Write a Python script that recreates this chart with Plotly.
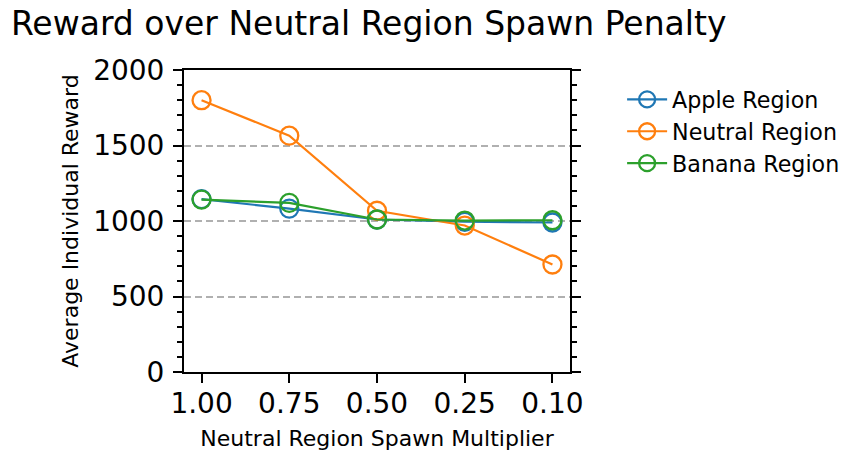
import plotly.graph_objects as go

# Spawn multipliers (categorical x axis) and average rewards per region
multipliers = ["1.00", "0.75", "0.50", "0.25", "0.10"]
apple_reward = [1145, 1082, 1010, 995, 990]
neutral_reward = [1800, 1565, 1068, 970, 712]
banana_reward = [1142, 1120, 1010, 1003, 1005]

series = [
    ("Apple Region", apple_reward, "#1f77b4"),
    ("Neutral Region", neutral_reward, "#ff7f0e"),
    ("Banana Region", banana_reward, "#2ca02c"),
]

FONT = "DejaVu Sans"
INK = "#000000"

fig = go.Figure()
for name, values, color in series:
    fig.add_trace(go.Scatter(
        x=multipliers, y=values, name=name, mode="lines+markers",
        line=dict(color=color, width=2.2),
        marker=dict(symbol="circle-open", size=18, color=color,
                    line=dict(color=color, width=2.3)),
    ))

fig.update_layout(
    width=841, height=452,
    margin=dict(l=184, r=271, t=70, b=80, autoexpand=False),
    paper_bgcolor="white", plot_bgcolor="white",
    font=dict(family=FONT, color=INK),
    title=dict(text="Reward over Neutral Region Spawn Penalty",
               x=0.013, xanchor="left", y=0.948, yanchor="middle",
               font=dict(size=33, family=FONT, color=INK)),
    legend=dict(x=1.135, y=0.972, xanchor="left", yanchor="top",
                font=dict(size=22.2, family=FONT, color=INK),
                bgcolor="rgba(0,0,0,0)", tracegroupgap=0, itemwidth=40),
    showlegend=True,
)

fig.update_xaxes(
    type="category", range=[-0.2, 4.2], automargin=False,
    showline=True, linecolor=INK, linewidth=2, mirror=True,
    ticks="outside", ticklen=9, tickwidth=1.8, tickcolor=INK,
    tickfont=dict(size=28, family=FONT, color=INK), ticklabelstandoff=-4,
    showgrid=False, zeroline=False,
    title=dict(text="Neutral Region Spawn Multiplier",
               font=dict(size=22, family=FONT, color=INK), standoff=12),
)

fig.update_yaxes(
    range=[0, 2000], tickvals=[0, 500, 1000, 1500, 2000], automargin=False,
    showline=True, linecolor=INK, linewidth=2, mirror="ticks",
    ticks="outside", ticklen=9, tickwidth=1.8, tickcolor=INK,
    tickfont=dict(size=28, family=FONT, color=INK), ticklabelstandoff=3,
    minor=dict(dtick=100, ticks="outside", ticklen=5, tickwidth=1.5,
               tickcolor=INK, showgrid=False),
    showgrid=True, gridcolor="#b0b0b0", gridwidth=1.5, griddash="7px,4px",
    zeroline=False,
    title=dict(text="Average Individual Reward",
               font=dict(size=22, family=FONT, color=INK), standoff=8),
)

fig.write_html("out.html")
